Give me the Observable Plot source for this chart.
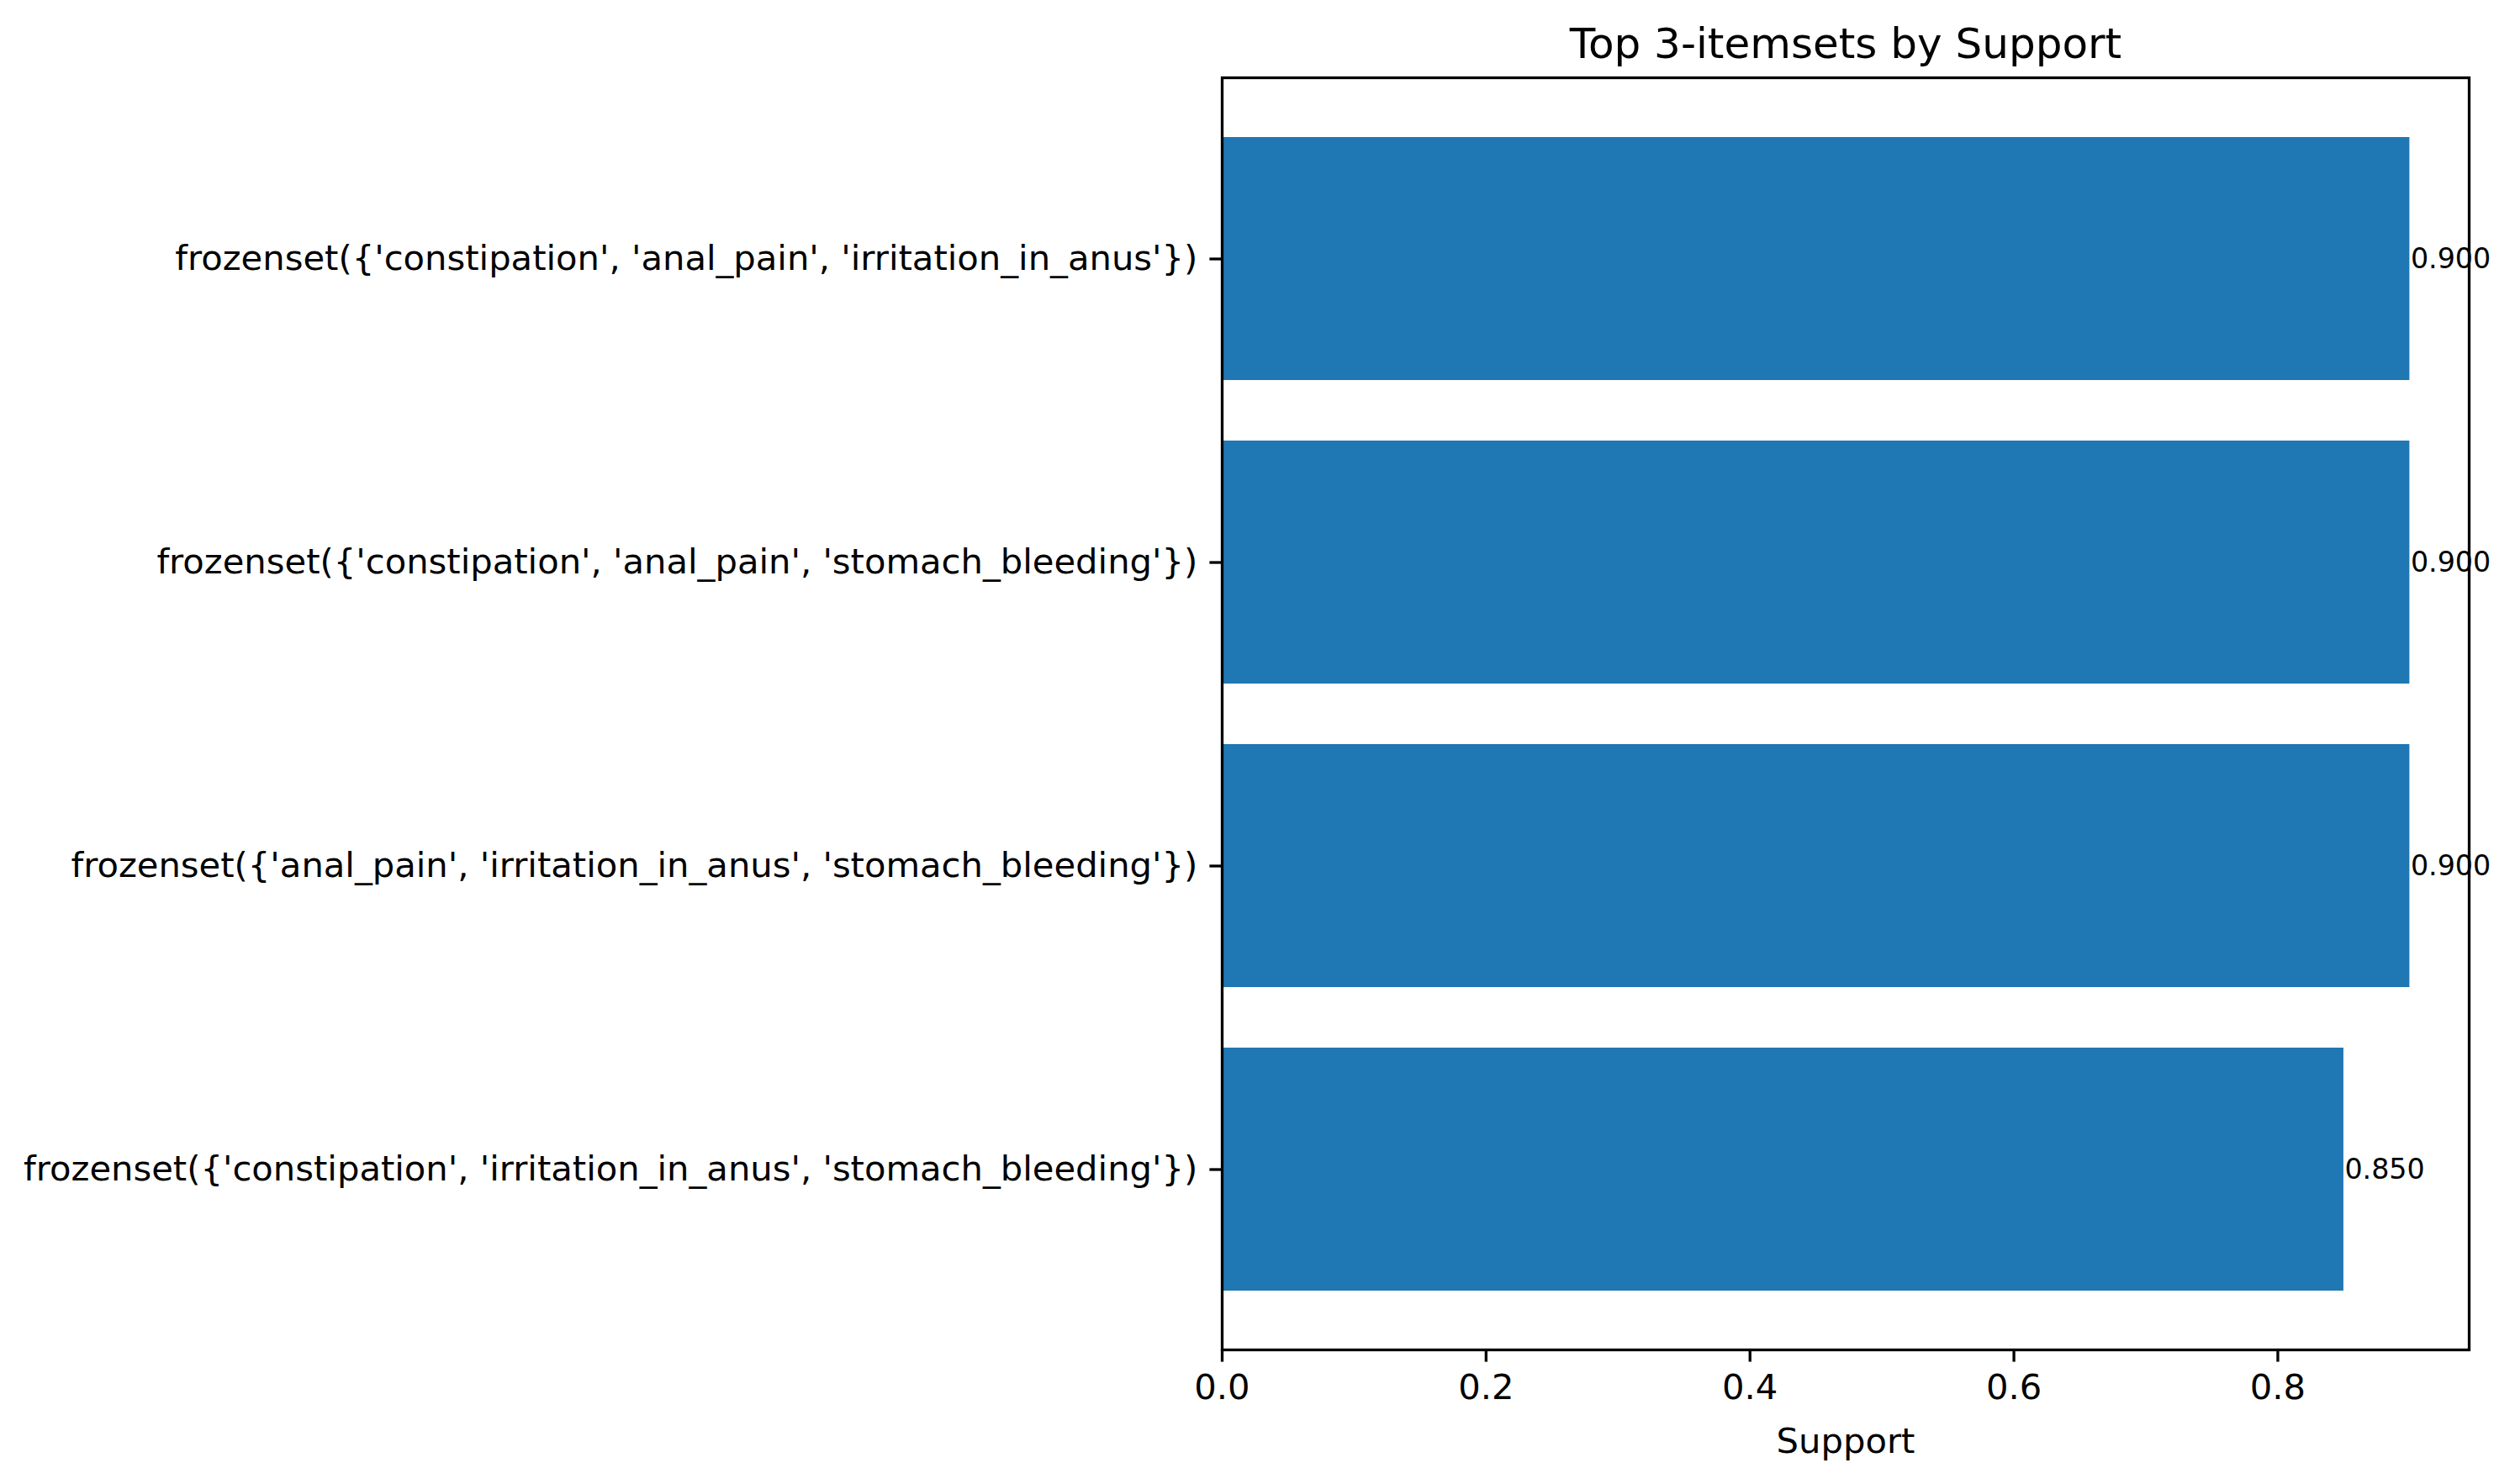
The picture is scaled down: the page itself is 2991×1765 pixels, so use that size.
<!DOCTYPE html>
<html>
<head>
<meta charset="utf-8">
<script src="https://cdn.jsdelivr.net/npm/d3@7"></script>
<script src="https://cdn.jsdelivr.net/npm/@observablehq/plot@0.6"></script>
<style>
  html, body { margin: 0; padding: 0; background: #fff; }
  svg { font-family: "DejaVu Sans", sans-serif; }
</style>
</head>
<body>
<div id="chart"></div>
<script>
const itemsets = [
  "frozenset({'constipation', 'anal_pain', 'irritation_in_anus'})",
  "frozenset({'constipation', 'anal_pain', 'stomach_bleeding'})",
  "frozenset({'anal_pain', 'irritation_in_anus', 'stomach_bleeding'})",
  "frozenset({'constipation', 'irritation_in_anus', 'stomach_bleeding'})"
];
const support = [0.900, 0.900, 0.900, 0.850];
const xTicks = [0.0, 0.2, 0.4, 0.6, 0.8];
const titleText = "Top 3-itemsets by Support";
const xLabel = "Support";

const data = itemsets.map((s, i) => ({itemset: s, support: support[i]}));

const chart = Plot.plot({
  width: 2991,
  height: 1765,
  marginLeft: 1453,
  marginRight: 55,
  marginTop: 92,
  marginBottom: 160,
  style: {fontFamily: "DejaVu Sans, sans-serif", background: "#fff", color: "#000"},
  x: {domain: [0, 0.945]},
  y: {domain: itemsets, paddingInner: 0.2, paddingOuter: 0.19},
  marks: [
    Plot.barX(data, {x: "support", y: "itemset", fill: "#1f77b4"}),
    Plot.text(data, {
      x: "support", y: "itemset",
      text: d => d3.format(".3f")(d.support),
      textAnchor: "start", dx: 1, fontSize: 33.3, fill: "#000"
    }),
    Plot.frame({stroke: "#000", strokeWidth: 3.3}),
    Plot.axisY({
      tickSize: 14.6, tickPadding: 14.6, tickWidth: 3.3, strokeWidth: 3.3,
      fontSize: 41.7, label: null, textAnchor: "end"
    }),
    Plot.axisX({
      ticks: xTicks, tickFormat: d3.format(".1f"),
      tickSize: 14.6, tickPadding: 14.6, strokeWidth: 3.3,
      fontSize: 41.7, label: null
    }),
    Plot.text([xLabel], {
      frameAnchor: "bottom", dy: 109, lineAnchor: "middle",
      text: d => d, fontSize: 41.7, fill: "#000"
    }),
    Plot.text([titleText], {
      frameAnchor: "top", dy: -40, lineAnchor: "middle",
      text: d => d, fontSize: 50, fill: "#000"
    })
  ]
});
document.getElementById("chart").appendChild(chart);
</script>
</body>
</html>
